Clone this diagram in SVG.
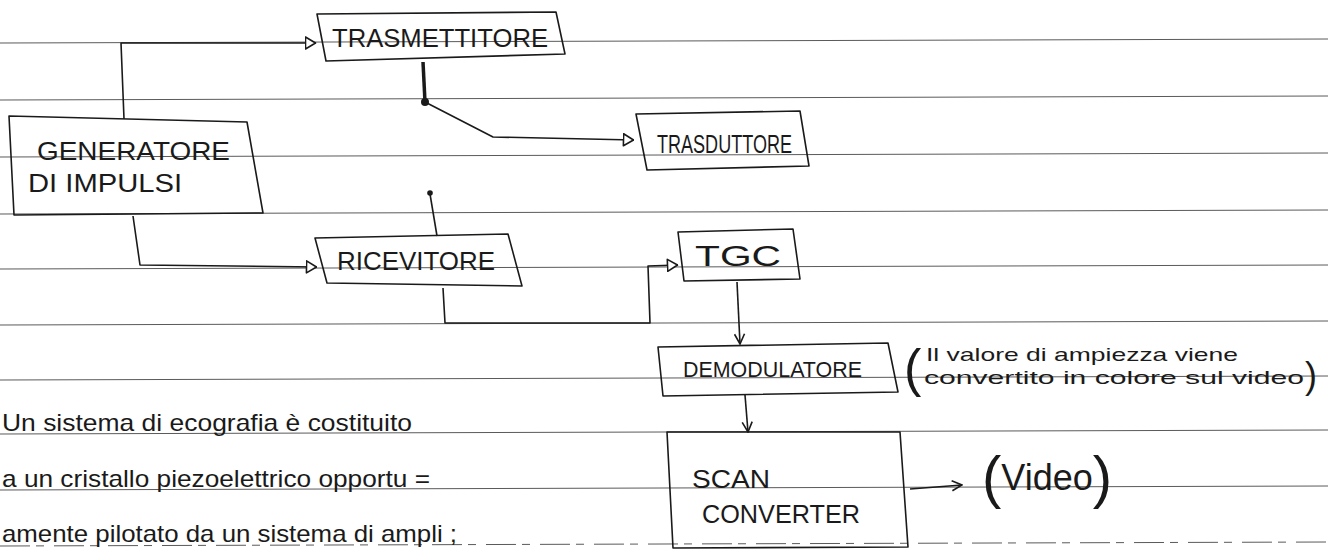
<svg xmlns="http://www.w3.org/2000/svg" width="1328" height="550" viewBox="0 0 1328 550">
<style>
.rule{stroke:#5a5a5a;stroke-width:1;fill:none}
.box{fill:none;stroke:#1a1a1a;stroke-width:1.6;stroke-linejoin:round}
.lbl{font-family:"Liberation Sans",Arial,sans-serif;font-size:25px;fill:#1a1a1a}
.note{font-family:"Liberation Sans",Arial,sans-serif;font-size:24px;fill:#1a1a1a}
.small{font-family:"Liberation Sans",Arial,sans-serif;font-size:19px;fill:#1a1a1a}
.conn{fill:none;stroke:#1a1a1a;stroke-width:1.6;stroke-linejoin:round}
</style>
<defs>
<marker id="tri" viewBox="0 0 12 14" refX="11.5" refY="7" markerWidth="12" markerHeight="14" orient="auto" markerUnits="userSpaceOnUse">
<path d="M1,1 L11,7 L1,13 Z" fill="#fff" stroke="#1a1a1a" stroke-width="1.6" stroke-linejoin="round"/>
</marker>
<marker id="chev" viewBox="0 0 12 12" refX="11" refY="6" markerWidth="12" markerHeight="12" orient="auto" markerUnits="userSpaceOnUse">
<path d="M1,1 L11,6 L1,11" fill="none" stroke="#1a1a1a" stroke-width="1.6"/>
</marker>
</defs>
<rect width="1328" height="550" fill="#fff"/>
<g id="ruled-lines">
<line class="rule" x1="0" y1="43" x2="1328" y2="39"/>
<line class="rule" x1="0" y1="100" x2="1328" y2="96"/>
<line class="rule" x1="0" y1="157" x2="1328" y2="153"/>
<line class="rule" x1="0" y1="214" x2="1328" y2="210"/>
<line class="rule" x1="0" y1="269" x2="1328" y2="265"/>
<line class="rule" x1="0" y1="325" x2="1328" y2="321"/>
<line class="rule" x1="0" y1="380" x2="1328" y2="376"/>
<line class="rule" x1="0" y1="434" x2="1328" y2="430"/>
<line class="rule" x1="0" y1="490" x2="1328" y2="486"/>
<line class="rule" x1="0" y1="546" x2="1328" y2="542" stroke-dasharray="30 6 8 10"/>
</g>
<g id="connectors">
<path class="conn" d="M124,119 L121,43 L316,43" marker-end="url(#tri)"/>
<path d="M423,62 L425,102" fill="none" stroke="#1a1a1a" stroke-width="3.5"/>
<circle cx="425" cy="102" r="4" fill="#1a1a1a"/>
<path class="conn" d="M425,102 L493,137 L634,140" marker-end="url(#tri)"/>
<path class="conn" d="M133,216 L140,265 L317,267" marker-end="url(#tri)"/>
<path class="conn" d="M437,236 L430,194"/>
<circle cx="430" cy="193" r="2.8" fill="#1a1a1a"/>
<path class="conn" d="M443,288 L445,323 L650,323 L648,266 L678,265" marker-end="url(#tri)"/>
<path class="conn" stroke-width="1.2" d="M737,282 L740,344" marker-end="url(#chev)"/>
<path class="conn" d="M745,395 L748,432" marker-end="url(#chev)"/>
<path class="conn" d="M910,489 L962,485" marker-end="url(#chev)"/>
</g>
<g id="trasmettitore">
<polygon class="box" points="317,14 556,12 565,54 326,61"/>
<text class="lbl" x="332" y="47" textLength="216" lengthAdjust="spacingAndGlyphs">TRASMETTITORE</text>
</g>
<g id="generatore">
<polygon class="box" points="9,116 247,122 263,213 14,215"/>
<text class="lbl" x="37" y="160" textLength="193" lengthAdjust="spacingAndGlyphs">GENERATORE</text>
<text class="lbl" x="28" y="192" textLength="154" lengthAdjust="spacingAndGlyphs">DI IMPULSI</text>
</g>
<g id="trasduttore">
<polygon class="box" points="636,114 800,111 809,166 647,170"/>
<text class="lbl" x="657" y="153" textLength="135" lengthAdjust="spacingAndGlyphs">TRASDUTTORE</text>
</g>
<g id="ricevitore">
<polygon class="box" points="315,238 508,234 522,286 327,283"/>
<text class="lbl" x="337" y="270" textLength="158" lengthAdjust="spacingAndGlyphs">RICEVITORE</text>
</g>
<g id="tgc">
<polygon class="box" points="678,232 793,229 800,279 684,281"/>
<text class="lbl" x="695" y="266" style="font-size:29px" textLength="86" lengthAdjust="spacingAndGlyphs">TGC</text>
</g>
<g id="demodulatore">
<polygon class="box" points="658,347 888,343 898,392 663,396"/>
<text class="lbl" x="683" y="377" style="font-size:22px" textLength="179" lengthAdjust="spacingAndGlyphs">DEMODULATORE</text>
</g>
<g id="scan-converter">
<polygon class="box" points="667,432 900,432 908,547 673,548"/>
<text class="lbl" x="692" y="488" textLength="78" lengthAdjust="spacingAndGlyphs">SCAN</text>
<text class="lbl" x="702" y="523" textLength="158" lengthAdjust="spacingAndGlyphs">CONVERTER</text>
</g>
<g id="video">
<text class="lbl" x="982" y="497"><tspan style="font-size:58px">(</tspan><tspan dy="-7" style="font-size:36px">Video</tspan><tspan dy="7" style="font-size:58px">)</tspan></text>
</g>
<g id="nota-ampiezza">
<text class="small" x="904" y="386" style="font-size:52px">(</text>
<text class="small" x="926" y="361" textLength="312" lengthAdjust="spacingAndGlyphs">Il valore di ampiezza viene</text>
<text class="small" x="924" y="384" textLength="380" lengthAdjust="spacingAndGlyphs">convertito in colore sul video</text>
<text class="small" x="1305" y="388" style="font-size:36px">)</text>
</g>
<g id="testo">
<text class="note" x="2" y="431" textLength="410" lengthAdjust="spacingAndGlyphs">Un sistema di ecografia è costituito</text>
<text class="note" x="2" y="487" textLength="428" lengthAdjust="spacingAndGlyphs">a un cristallo piezoelettrico opportu =</text>
<text class="note" x="2" y="542" textLength="455" lengthAdjust="spacingAndGlyphs">amente pilotato da un sistema di ampli ;</text>
</g>
</svg>
